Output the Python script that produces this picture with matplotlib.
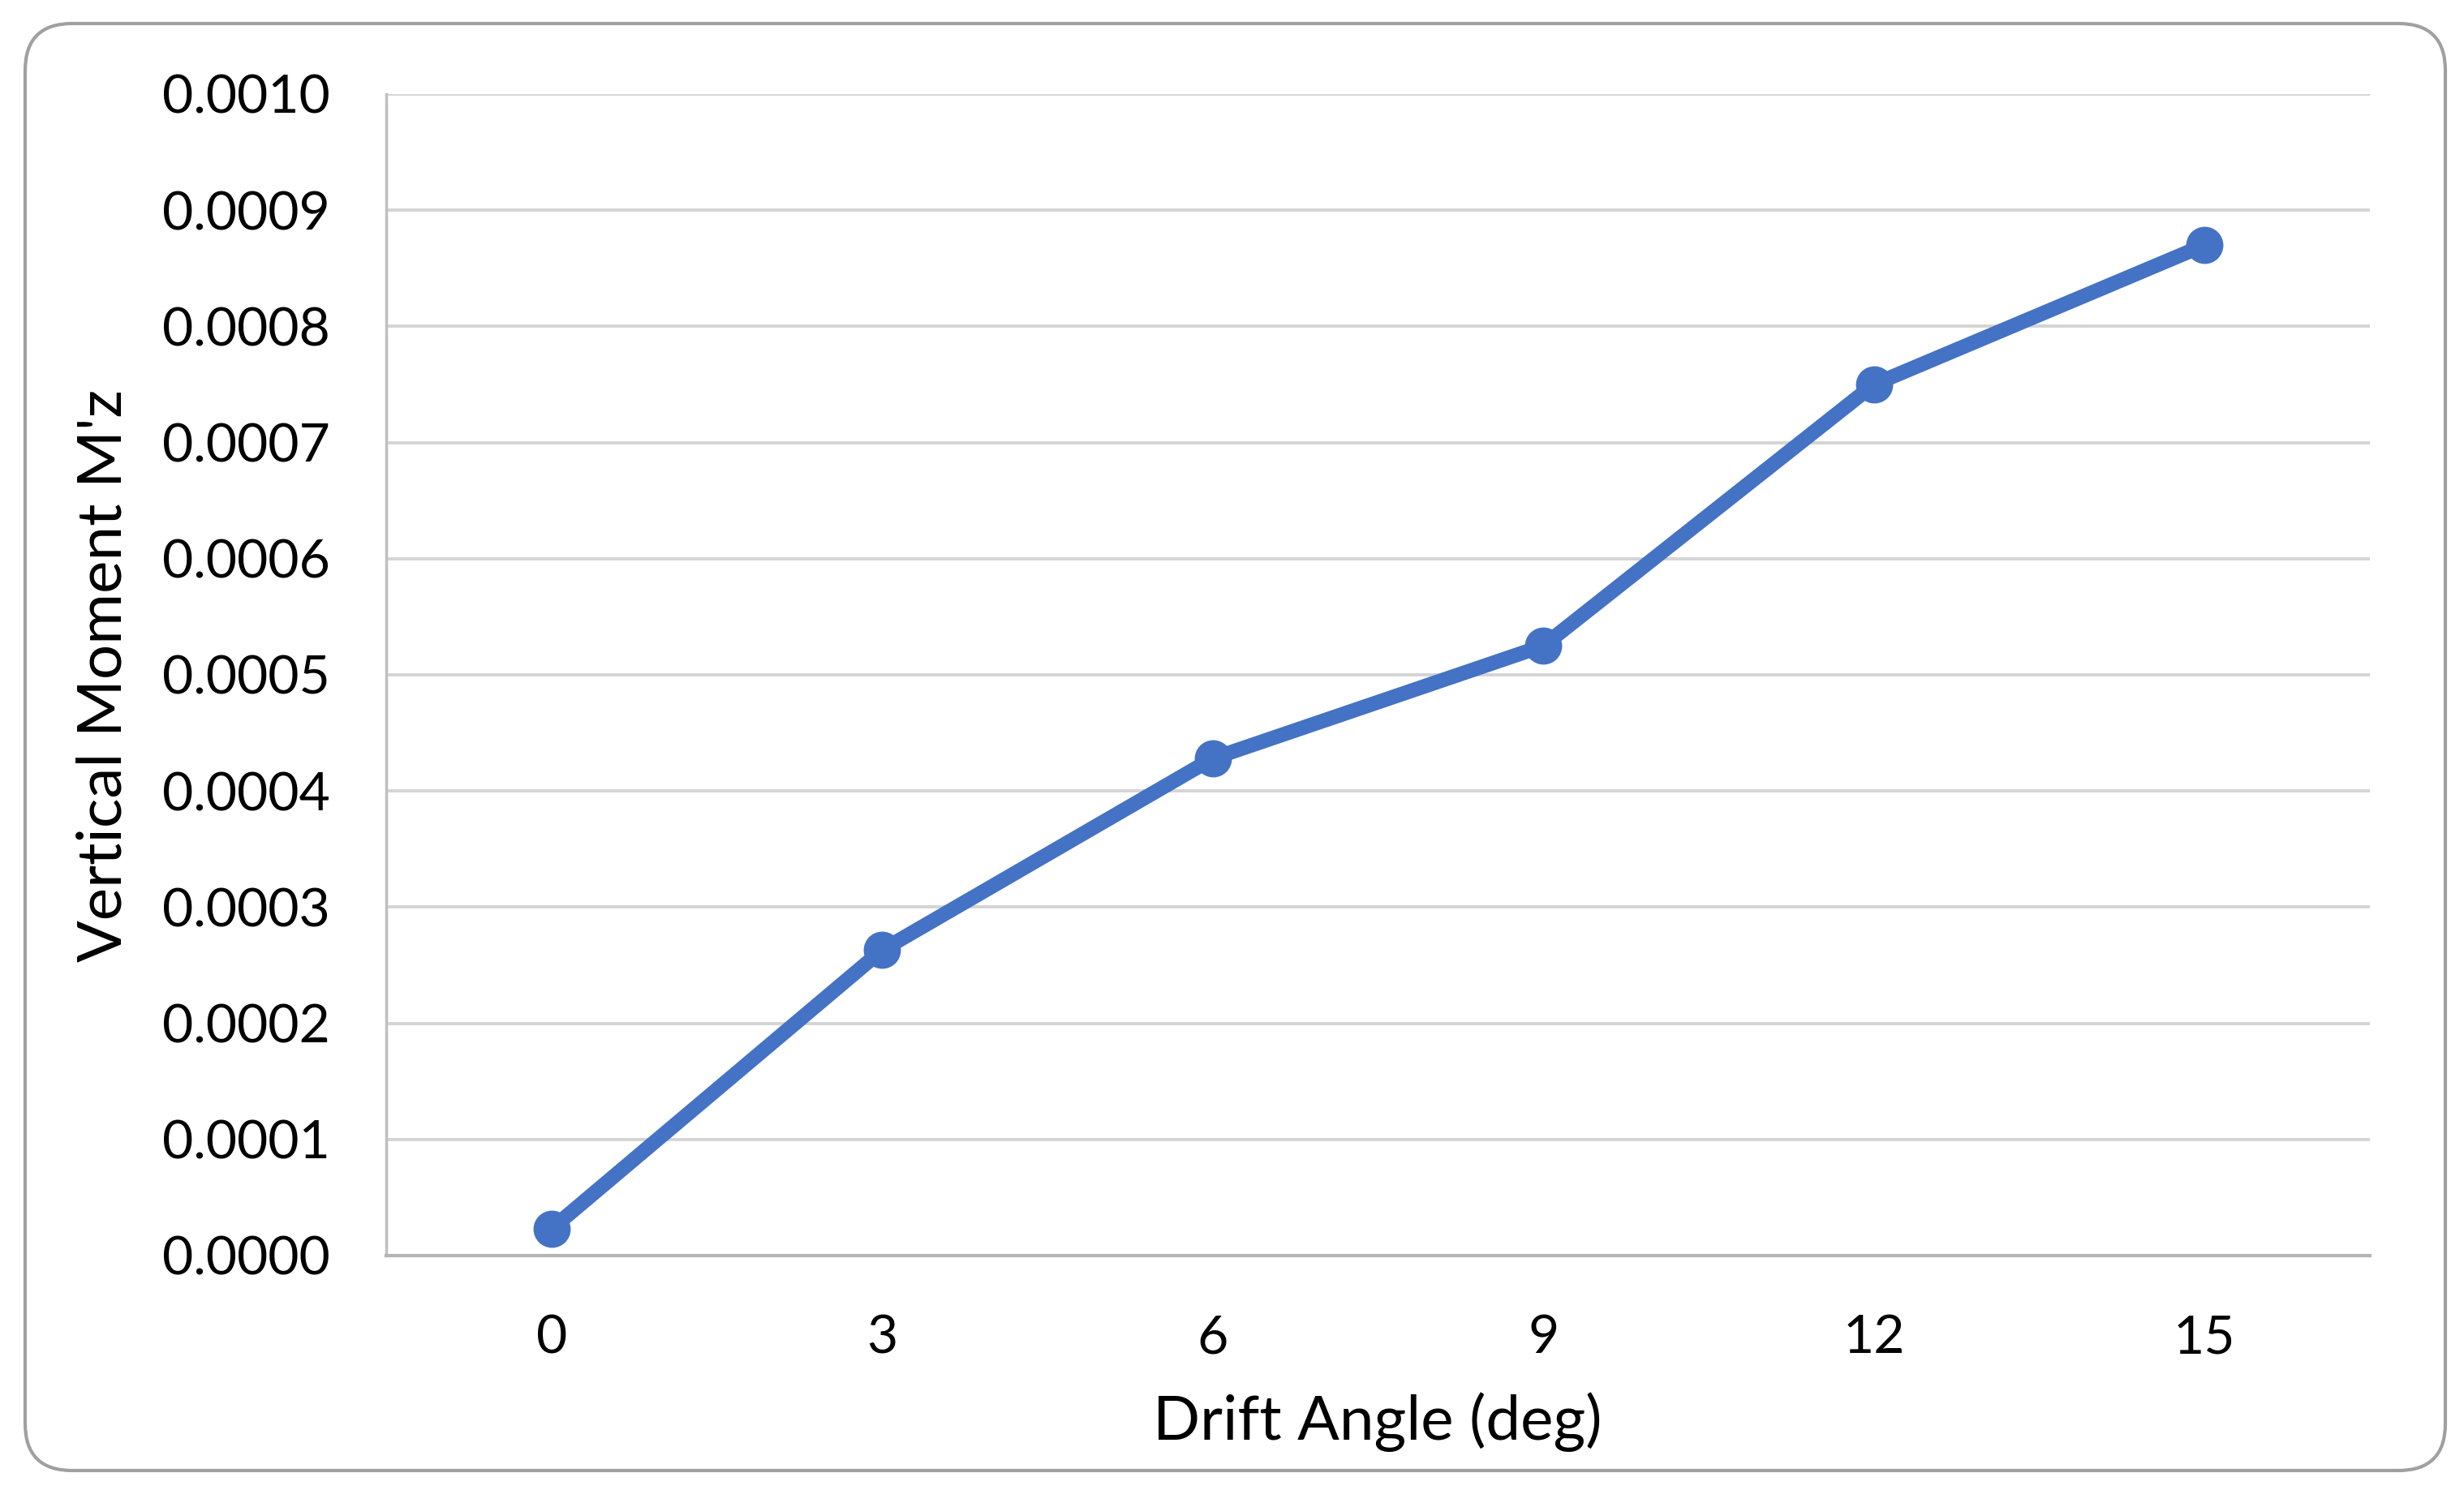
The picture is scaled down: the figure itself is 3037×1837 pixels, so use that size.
import matplotlib
matplotlib.use("Agg")
import matplotlib.pyplot as plt
from matplotlib.patches import FancyBboxPatch
from matplotlib.transforms import IdentityTransform
from matplotlib.ticker import FormatStrFormatter

# Data
drift_angles = ["0", "3", "6", "9", "12", "15"]
moment_values = [0.000023, 0.000263, 0.000428, 0.000525, 0.000750, 0.000870]
y_ticks = [0.0000, 0.0001, 0.0002, 0.0003, 0.0004, 0.0005, 0.0006, 0.0007, 0.0008, 0.0009, 0.0010]

plt.rcParams['font.family'] = ['Lato', 'DejaVu Sans']

W, H = 3037, 1837
fig = plt.figure(figsize=(W / 100, H / 100), dpi=100)

# rounded outer frame (pixel coords)
frame = FancyBboxPatch((31 + 58, 24 + 58), (3014 - 31) - 116, (1808 - 24) - 116,
                       boxstyle="round,pad=58,rounding_size=58",
                       transform=IdentityTransform(), facecolor='none',
                       edgecolor='#a0a0a0', linewidth=3, zorder=-1)
fig.patches.append(frame)

left, right, top, bottom = 476, 2921, 116, 1548
ax = fig.add_axes([left / W, (H - bottom) / H, (right - left) / W, (bottom - top) / H])
ax.set_facecolor('none')

x = list(range(len(drift_angles)))
ax.plot(x, moment_values, color='#4472C4', linewidth=13, marker='o',
        markersize=32, solid_capstyle='round', zorder=3)

ax.set_xlim(-0.5, len(drift_angles) - 0.5)
ax.set_ylim(0, 0.001)
ax.set_yticks(y_ticks)
ax.yaxis.set_major_formatter(FormatStrFormatter('%.4f'))
ax.set_xticks(x)
ax.set_xticklabels(drift_angles)

ax.grid(axis='y', color='#d4d4d4', linewidth=2.8)
ax.set_axisbelow(True)
for s in ['top', 'right']:
    ax.spines[s].set_visible(False)
ax.spines['left'].set_color('#bfbfbf')
ax.spines['left'].set_linewidth(2.5)
ax.spines['bottom'].set_color('#b5b5b5')
ax.spines['bottom'].set_linewidth(3)

ax.tick_params(axis='both', length=0, labelsize=47.5, colors='black')
ax.tick_params(axis='y', pad=50)
ax.tick_params(axis='x', pad=52)

fig.text(128 / W, (H - 833) / H, "Vertical Moment M'z", rotation=90,
         ha='center', va='center', fontsize=55)
fig.text(1698 / W, (H - 1753) / H, "Drift Angle (deg)", ha='center', va='center',
         fontsize=55)

fig.savefig("out.png", dpi=100)
